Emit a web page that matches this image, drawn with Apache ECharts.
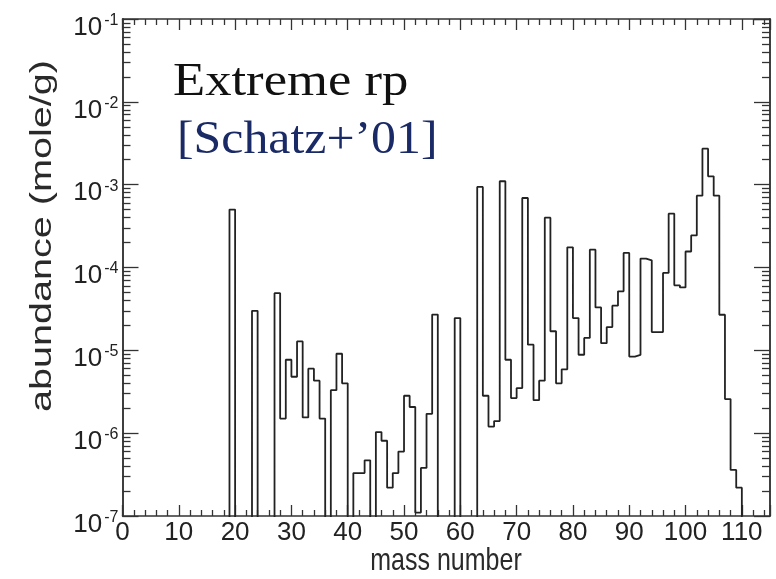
<!DOCTYPE html>
<html>
<head>
<meta charset="utf-8">
<script src="https://cdn.jsdelivr.net/npm/echarts@6/dist/echarts.min.js"></script>
<style>
html,body{margin:0;padding:0;background:#fff;}
#chart{width:776px;height:579px;}
</style>
</head>
<body>
<div id="chart"></div>
<script>
// Mass number of each bin (lower edge of a unit-wide bin)
const massNumbers = [17,18,19,20,21,22,23,24,25,26,27,28,29,30,31,32,33,34,35,36,37,38,39,40,
  41,42,43,44,45,46,47,48,49,50,51,52,53,54,55,56,57,58,59,60,61,62,63,64,65,66,67,68,69,70,
  71,72,73,74,75,76,77,78,79,80,81,82,83,84,85,86,87,88,89,90,91,92,93,94,95,96,97,98,99,100,
  101,102,103,104,105,106,107,108,109,110,111];
// Abundance (mole/g); 0 = below the plotted range
const abundance = [0,0,5.0e-4,0,0,0,3.0e-5,0,0,0,4.9e-5,1.5e-6,7.7e-6,4.8e-6,1.28e-5,1.55e-6,6.0e-6,4.3e-6,1.5e-6,0,
  3.3e-6,9.1e-6,4.0e-6,0,3.3e-7,3.3e-7,4.7e-7,0,1.03e-6,8.1e-7,2.2e-7,3.3e-7,6.0e-7,2.83e-6,2.07e-6,1.1e-7,3.8e-7,1.71e-6,2.7e-5,0,
  0,0,2.45e-5,0,0,0,9.4e-4,2.83e-6,1.2e-6,1.4e-6,1.1e-3,7.7e-6,2.65e-6,3.5e-6,6.9e-4,1.17e-5,2.5e-6,4.3e-6,4.0e-4,1.7e-5,
  4.0e-6,5.9e-6,1.75e-4,2.45e-5,8.85e-6,1.41e-5,1.64e-4,3.3e-5,1.22e-5,1.91e-5,3.46e-5,5.15e-5,1.5e-4,8.4e-6,8.8e-6,1.28e-4,1.22e-4,1.66e-5,1.66e-5,8.6e-5,
  4.47e-4,6.1e-5,5.75e-5,1.56e-4,2.44e-4,7.36e-4,2.72e-3,1.26e-3,7.36e-4,2.69e-5,2.58e-6,3.6e-7,2.2e-7,0,0];

const xTitle = 'mass number';
const yTitle = 'abundance (mole/g)';
const xMin = 0, xMax = 115, xMajor = 10, xMinorSplit = 5;
const yMin = 1e-7, yMax = 1e-1;
const yMinorTicks = [];
for (let e = -7; e < -1; e++) for (let k = 2; k <= 9; k++) yMinorTicks.push(k * Math.pow(10, e));

const FLOOR = 1e-9; // off-scale (zero) bins drop below the axis
const seriesData = massNumbers.map((m, i) => [m, abundance[i] > 0 ? abundance[i] : FLOOR]);

const axisColor = '#333';
const grid = {left: 122.5, right: 6, top: 19, bottom: 63};

const supLabel = {
  formatter: v => '{b|10}{e|' + Math.round(Math.log10(v)) + '}',
  margin: 4,
  padding: [15, 0, 0, 0],
  rich: {
    b: {fontFamily: 'Liberation Sans', fontSize: 26, color: '#222', verticalAlign: 'bottom', lineHeight: 28},
    e: {fontFamily: 'Liberation Sans', fontSize: 16, color: '#222', verticalAlign: 'top', lineHeight: 28, padding: [0,0,0,2]}
  }
};

function yAx(pos, major, showLabel) {
  return {
    type: 'log', logBase: 10, min: yMin, max: yMax, position: pos,
    axisLine: {show: true, lineStyle: {color: axisColor, width: 1.5}},
    axisTick: major ? {show: true, inside: true, length: 16, lineStyle: {color: axisColor, width: 1.3}}
                    : {show: true, inside: true, length: 8, customValues: yMinorTicks, lineStyle: {color: axisColor, width: 1.3}},
    axisLabel: showLabel ? supLabel : {show: false},
    splitLine: {show: false}
  };
}
function xAx(pos, showLabel) {
  return {
    type: 'value', min: xMin, max: xMax, interval: xMajor, position: pos,
    axisLine: {show: true, onZero: false, lineStyle: {color: axisColor, width: 1.5}},
    axisTick: {show: true, inside: true, length: 11, lineStyle: {color: axisColor, width: 1.3}},
    minorTick: {show: true, splitNumber: xMinorSplit, length: 6, lineStyle: {color: axisColor, width: 1.3}},
    axisLabel: showLabel ? {fontFamily: 'Liberation Sans', fontSize: 26, color: '#222', margin: 4,
      showMaxLabel: false} : {show: false},
    splitLine: {show: false}
  };
}

const chart = echarts.init(document.getElementById('chart'), null, {renderer: 'canvas'});
chart.setOption({
  backgroundColor: '#fff',
  animation: false,
  grid: grid,
  xAxis: [xAx('bottom', true), xAx('top', false)],
  yAxis: [yAx('left', true, true), yAx('left', false, false), yAx('right', true, false), yAx('right', false, false)],
  series: [{
    type: 'line', step: 'end', data: seriesData, xAxisIndex: 0, yAxisIndex: 0,
    showSymbol: false, clip: true,
    lineStyle: {color: '#222', width: 1.8}
  }],
  graphic: [
    {type: 'text', x: 43, y: 236, rotation: Math.PI / 2, scaleX: 1.365,
      style: {text: yTitle, fontFamily: 'Liberation Sans', fontSize: 29, fill: '#2a2a2a', align: 'center', verticalAlign: 'middle'}},
    {type: 'text', x: 446, y: 561, scaleY: 1.25,
      style: {text: xTitle, fontFamily: 'Liberation Sans', fontSize: 25, fill: '#2a2a2a', align: 'center', verticalAlign: 'middle'}},
    {type: 'text', x: 173, y: 82.5, scaleX: 1.12,
      style: {text: 'Extreme rp', fontFamily: 'Liberation Serif', fontSize: 47, fill: '#111', align: 'left', verticalAlign: 'middle'}},
    {type: 'text', x: 177, y: 141, scaleX: 1.06,
      style: {text: '[Schatz+\u201901]', fontFamily: 'Liberation Serif', fontSize: 47, fill: '#1a2a66', align: 'left', verticalAlign: 'middle'}}
  ]
});
</script>
</body>
</html>
